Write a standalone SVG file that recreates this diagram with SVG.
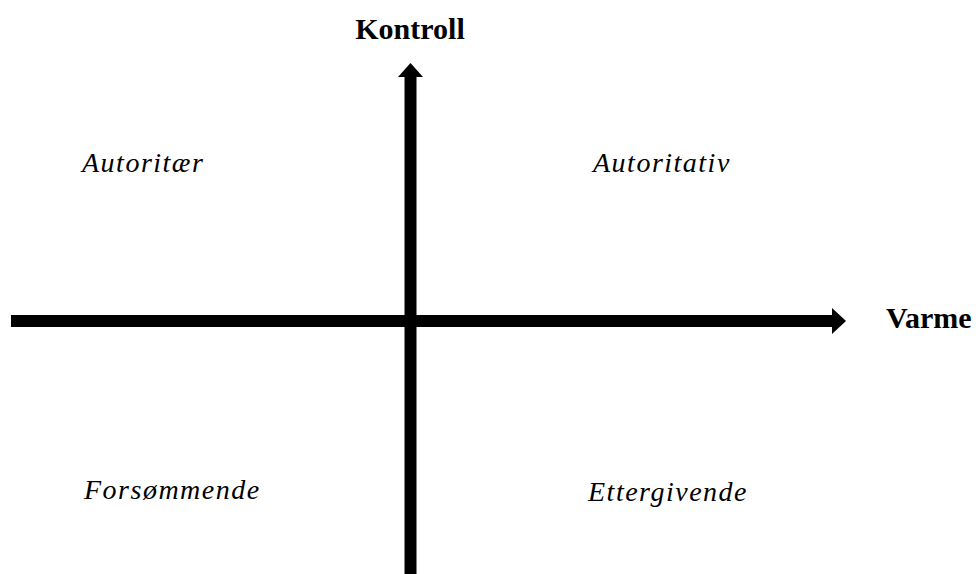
<svg xmlns="http://www.w3.org/2000/svg" width="979" height="574" viewBox="0 0 979 574">
<style>
.axis{fill:#000}
.lbl{font-family:"Liberation Serif","Times New Roman",serif;font-weight:bold;font-size:30px;fill:#000}
.q{font-family:"Liberation Serif","Times New Roman",serif;font-style:italic;font-size:28px;letter-spacing:1.5px;fill:#000}
</style>
<rect width="979" height="574" fill="#fff"/>
<g id="connectors">
<g id="x-axis">
<rect class="axis" x="11" y="315" width="822" height="12"/>
<polygon class="axis" points="832,308 846,321 832,334"/>
</g>
<g id="y-axis">
<rect class="axis" x="404.5" y="76" width="12" height="498"/>
<polygon class="axis" points="398,77 410.5,63 423,77"/>
</g>
</g>
<g id="kontroll"><text class="lbl" x="410" y="39" text-anchor="middle">Kontroll</text></g>
<g id="varme"><text class="lbl" x="886" y="328">Varme</text></g>
<g id="autoritaer"><text class="q" x="82" y="172">Autoritær</text></g>
<g id="autoritativ"><text class="q" x="593" y="172">Autoritativ</text></g>
<g id="forsommende"><text class="q" x="84" y="499">Forsømmende</text></g>
<g id="ettergivende"><text class="q" x="588" y="501">Ettergivende</text></g>
</svg>
